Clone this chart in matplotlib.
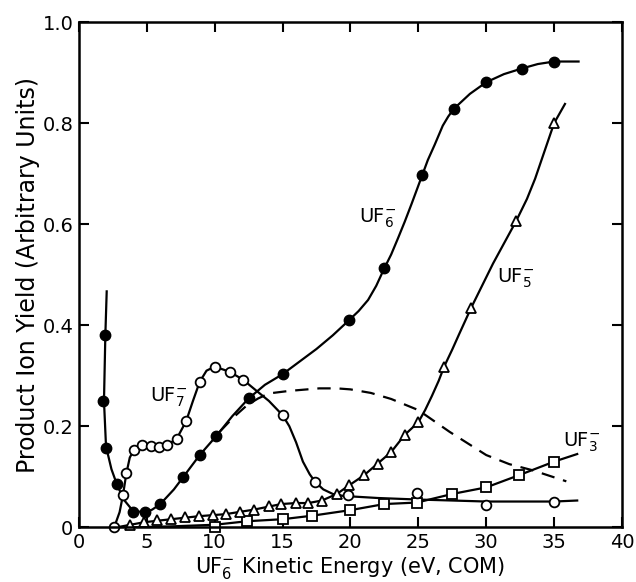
import matplotlib
matplotlib.use("Agg")
import matplotlib.pyplot as plt

plt.rcParams["font.family"] = "DejaVu Sans"
plt.rcParams["mathtext.default"] = "regular"

# UF6- (filled circles)
uf6_x = [1.9, 1.8, 2.0, 2.8, 4.0, 4.9, 6.0, 7.7, 8.9, 10.1, 12.5, 15.0,
         19.9, 22.5, 25.3, 27.6, 30.0, 32.6, 35.0]
uf6_y = [0.38, 0.25, 0.157, 0.085, 0.03, 0.03, 0.046, 0.10, 0.143, 0.18,
         0.255, 0.303, 0.41, 0.513, 0.698, 0.828, 0.881, 0.908, 0.922]
uf6_cx = [2.05, 1.95, 1.85, 2.0, 2.4, 2.8, 3.3, 4.0, 4.9, 5.4, 6.0, 7.0, 7.7,
          8.9, 10.1, 11.3, 12.5, 13.7, 15.0, 16.2, 17.5, 18.7, 19.9, 20.6,
          21.3, 21.9, 22.5, 23.0, 23.5, 24.0, 24.5, 25.3, 25.7, 26.2, 26.8,
          27.2, 27.6, 28.8, 30.0, 31.3, 32.6, 33.8, 35.0, 36.8]
uf6_cy = [0.467, 0.38, 0.25, 0.16, 0.115, 0.085, 0.055, 0.032, 0.03, 0.035,
          0.046, 0.075, 0.10, 0.143, 0.18, 0.22, 0.255, 0.282, 0.303, 0.327,
          0.353, 0.38, 0.41, 0.428, 0.45, 0.478, 0.513, 0.54, 0.572, 0.605,
          0.64, 0.698, 0.727, 0.757, 0.795, 0.813, 0.828, 0.858, 0.881, 0.897,
          0.908, 0.917, 0.922, 0.922]

# UF7- (open circles)
uf7_x = [2.6, 3.25, 3.5, 4.05, 4.65, 5.3, 5.9, 6.5, 7.2, 7.9, 8.9, 10.0,
         11.1, 12.1, 15.0, 17.4, 19.8, 24.9, 30.0, 35.0]
uf7_y = [0.0, 0.064, 0.107, 0.153, 0.163, 0.161, 0.159, 0.163, 0.175, 0.21,
         0.288, 0.318, 0.308, 0.292, 0.222, 0.09, 0.063, 0.068, 0.044, 0.05]
uf7_cx = [2.6, 3.0, 3.25, 3.5, 3.75, 4.05, 4.65, 5.3, 5.9, 6.5, 7.2, 7.9, 8.4,
          8.9, 9.4, 10.0, 11.1, 12.1, 13.0, 14.0, 15.0, 15.5, 16.0, 16.5,
          17.0, 17.4, 18.0, 18.7, 19.5, 22.0, 24.9, 27.5, 30.0, 32.5, 35.0, 36.7]
uf7_cy = [0.0, 0.03, 0.064, 0.107, 0.138, 0.153, 0.163, 0.161, 0.159, 0.163,
          0.175, 0.21, 0.25, 0.288, 0.31, 0.318, 0.308, 0.292, 0.272, 0.25,
          0.222, 0.2, 0.168, 0.13, 0.105, 0.09, 0.075, 0.066, 0.062, 0.058,
          0.055, 0.053, 0.051, 0.051, 0.051, 0.053]

# UF5- (open triangles)
uf5_x = [3.8, 4.8, 5.75, 6.8, 7.8, 8.85, 9.9, 10.8, 11.9, 12.9, 14.0, 14.9,
         16.0, 16.9, 17.9, 19.0, 19.9, 21.0, 22.0, 23.0, 24.0, 25.0, 26.9,
         28.9, 32.2, 35.0]
uf5_y = [0.005, 0.010, 0.014, 0.016, 0.021, 0.022, 0.024, 0.026, 0.031,
         0.035, 0.043, 0.046, 0.048, 0.048, 0.053, 0.066, 0.083, 0.103,
         0.126, 0.149, 0.183, 0.208, 0.318, 0.435, 0.606, 0.80]
uf5_cx = [2.8, 3.8, 4.8, 6.8, 8.85, 10.8, 12.9, 14.9, 16.0, 16.9, 17.9, 19.0,
          19.9, 21.0, 22.0, 23.0, 24.0, 25.0, 25.5, 26.0, 26.5, 26.9, 27.5,
          28.0, 28.9, 30.5, 32.2, 33.0, 33.6, 35.0, 35.8]
uf5_cy = [0.0, 0.005, 0.010, 0.016, 0.022, 0.026, 0.035, 0.046, 0.048, 0.048,
          0.053, 0.066, 0.083, 0.103, 0.126, 0.149, 0.183, 0.208, 0.232, 0.26,
          0.29, 0.318, 0.352, 0.382, 0.435, 0.522, 0.606, 0.65, 0.69, 0.80, 0.838]

# UF3- (open squares)
uf3_x = [10.0, 12.4, 15.0, 17.2, 20.0, 22.5, 24.9, 27.5, 30.0, 32.4, 35.0]
uf3_y = [0.0, 0.012, 0.016, 0.023, 0.034, 0.046, 0.049, 0.066, 0.079, 0.103, 0.13]
uf3_cx = [4.0, 7.0, 10.0, 12.4, 15.0, 17.2, 20.0, 22.5, 24.9, 27.5, 30.0,
          32.4, 35.0, 36.7]
uf3_cy = [0.0, 0.002, 0.005, 0.012, 0.016, 0.023, 0.034, 0.046, 0.049, 0.066,
          0.079, 0.103, 0.13, 0.145]

# dashed curve
dash_x = [10.4, 11.4, 12.4, 13.2, 14.0, 15.5, 17.7, 19.0, 20.0, 21.5, 23.0,
          25.0, 27.3, 30.0, 31.7, 33.4, 35.9]
dash_y = [0.19, 0.218, 0.242, 0.255, 0.265, 0.27, 0.275, 0.275, 0.273, 0.266,
          0.254, 0.232, 0.189, 0.143, 0.125, 0.113, 0.091]

labels = [(r"UF$_{7}^{-}$", 6.6, 0.258), (r"UF$_{6}^{-}$", 22.0, 0.612),
          (r"UF$_{5}^{-}$", 32.2, 0.493), (r"UF$_{3}^{-}$", 37.0, 0.169)]

fig = plt.figure(figsize=(6.36, 5.82), dpi=100)
ax = fig.add_axes([0.124, 0.094, 0.854, 0.868])

lw = 1.6
ax.plot(dash_x, dash_y, ls=(0, (6, 4)), color="k", lw=lw)
ax.plot(uf6_cx, uf6_cy, color="k", lw=lw)
ax.plot(uf7_cx, uf7_cy, color="k", lw=lw)
ax.plot(uf5_cx, uf5_cy, color="k", lw=lw)
ax.plot(uf3_cx, uf3_cy, color="k", lw=lw)

ax.plot(uf3_x, uf3_y, "s", ms=6.5, mfc="white", mec="k", mew=1.3, clip_on=False)
ax.plot(uf5_x, uf5_y, "^", ms=7, mfc="white", mec="k", mew=1.3, clip_on=False)
ax.plot(uf7_x, uf7_y, "o", ms=7, mfc="white", mec="k", mew=1.3, clip_on=False)
ax.plot(uf6_x, uf6_y, "o", ms=7.5, mfc="k", mec="k", clip_on=False)

for txt, x, y in labels:
    ax.text(x, y, txt, fontsize=14, ha="center", va="center")

ax.set_xlim(0, 40)
ax.set_ylim(0, 1.0)
ax.set_xticks(range(0, 41, 5))
ax.set_yticks([0, 0.2, 0.4, 0.6, 0.8, 1.0])
ax.set_yticklabels(["0", "0.2", "0.4", "0.6", "0.8", "1.0"])
ax.tick_params(direction="in", top=True, right=True, length=7, width=1.5,
               labelsize=14, pad=4)
for s in ax.spines.values():
    s.set_linewidth(1.8)

ax.set_xlabel(r"UF$_{6}^{-}$ Kinetic Energy (eV, COM)", fontsize=15, labelpad=2)
ax.set_ylabel("Product Ion Yield (Arbitrary Units)", fontsize=17, labelpad=2)

fig.savefig("out.png", dpi=100)
